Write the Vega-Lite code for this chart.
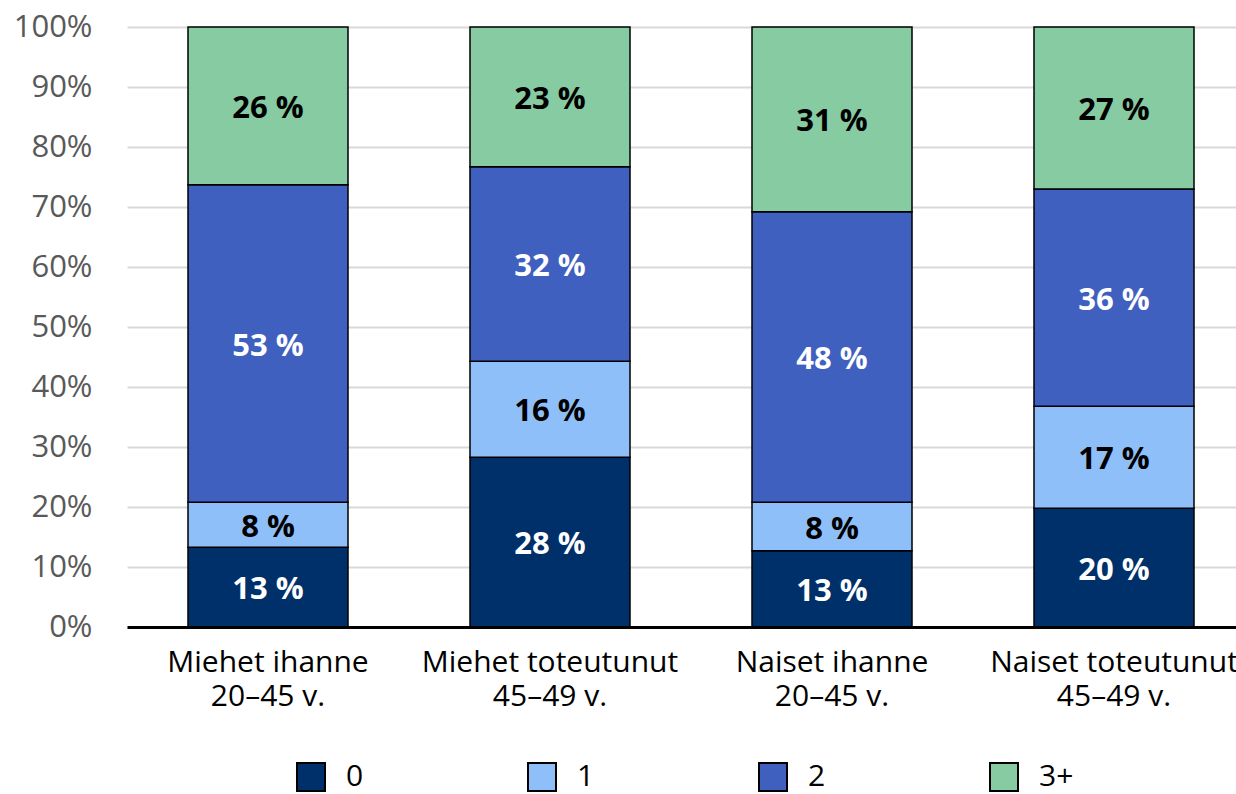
{
  "$schema": "https://vega.github.io/schema/vega-lite/v6.json",
  "width": 1109,
  "height": 600,
  "autosize": {"type": "none"},
  "padding": {"left": 127, "top": 27, "right": 0, "bottom": 167},
  "background": "white",
  "config": {"view": {"stroke": null}, "font": "Open Sans"},
  "data": {
    "values": [
      {"group": "Miehet ihanne|20–45 v.", "k": "0", "v": 13.3, "label": "13 %"},
      {"group": "Miehet ihanne|20–45 v.", "k": "1", "v": 7.5, "label": "8 %"},
      {"group": "Miehet ihanne|20–45 v.", "k": "2", "v": 52.9, "label": "53 %"},
      {"group": "Miehet ihanne|20–45 v.", "k": "3+", "v": 26.3, "label": "26 %"},
      {"group": "Miehet toteutunut|45–49 v.", "k": "0", "v": 28.3, "label": "28 %"},
      {"group": "Miehet toteutunut|45–49 v.", "k": "1", "v": 16.0, "label": "16 %"},
      {"group": "Miehet toteutunut|45–49 v.", "k": "2", "v": 32.4, "label": "32 %"},
      {"group": "Miehet toteutunut|45–49 v.", "k": "3+", "v": 23.3, "label": "23 %"},
      {"group": "Naiset ihanne|20–45 v.", "k": "0", "v": 12.7, "label": "13 %"},
      {"group": "Naiset ihanne|20–45 v.", "k": "1", "v": 8.1, "label": "8 %"},
      {"group": "Naiset ihanne|20–45 v.", "k": "2", "v": 48.4, "label": "48 %"},
      {"group": "Naiset ihanne|20–45 v.", "k": "3+", "v": 30.8, "label": "31 %"},
      {"group": "Naiset toteutunut|45–49 v.", "k": "0", "v": 19.8, "label": "20 %"},
      {"group": "Naiset toteutunut|45–49 v.", "k": "1", "v": 17.0, "label": "17 %"},
      {"group": "Naiset toteutunut|45–49 v.", "k": "2", "v": 36.2, "label": "36 %"},
      {"group": "Naiset toteutunut|45–49 v.", "k": "3+", "v": 27.0, "label": "27 %"}
    ]
  },
  "encoding": {
    "x": {
      "field": "group",
      "type": "nominal",
      "sort": null,
      "scale": {"range": [0, 1128], "paddingInner": 0.4326, "paddingOuter": 0.2163},
      "axis": {
        "title": null,
        "labelExpr": "split(datum.label, '|')",
        "labelAngle": 0,
        "labelFontSize": 30,
        "labelColor": "black",
        "labelLineHeight": 34,
        "labelPadding": 20,
        "labelOverlap": false,
        "labelLimit": 0,
        "ticks": false,
        "domainColor": "black",
        "domainWidth": 3,
        "grid": false,
        "zindex": 1
      }
    }
  },
  "layer": [
    {
      "mark": {"type": "bar", "stroke": "black", "strokeWidth": 1.5},
      "encoding": {
        "y": {
          "field": "v",
          "type": "quantitative",
          "stack": "zero",
          "scale": {"domain": [0, 100]},
          "axis": {
            "title": null,
            "values": [0, 10, 20, 30, 40, 50, 60, 70, 80, 90, 100],
            "labelExpr": "datum.value + '%'",
            "labelFontSize": 31,
            "labelColor": "#595959",
            "labelPadding": 35,
            "ticks": false,
            "domain": false,
            "gridColor": "#d9d9d9",
            "gridWidth": 2
          }
        },
        "color": {
          "field": "k",
          "type": "nominal",
          "scale": {"domain": ["0", "1", "2", "3+"], "range": ["#003069", "#8fbff8", "#3f60bf", "#86cba1"]},
          "legend": {
            "orient": "none",
            "legendX": 169,
            "legendY": 735,
            "direction": "horizontal",
            "columns": 4,
            "title": null,
            "padding": 0,
            "symbolType": "square",
            "symbolSize": 784,
            "symbolStrokeColor": "black",
            "symbolStrokeWidth": 2,
            "labelFontSize": 30,
            "labelColor": "black",
            "labelOffset": 20,
            "columnPadding": 160
          }
        },
        "order": {"field": "k", "sort": "ascending"}
      }
    },
    {
      "transform": [
        {"stack": "v", "groupby": ["group"], "sort": [{"field": "k", "order": "ascending"}], "as": ["y0", "y1"]},
        {"fold": ["y0", "y1"], "as": ["edge", "pos"]},
        {"aggregate": [{"op": "mean", "field": "pos", "as": "mid"}], "groupby": ["group", "k", "label"]}
      ],
      "mark": {"type": "text", "fontWeight": "bold", "fontSize": 31, "baseline": "middle", "dy": 3},
      "encoding": {
        "y": {"field": "mid", "type": "quantitative", "title": null},
        "text": {"field": "label"},
        "color": {"condition": {"test": "datum.k == '0' || datum.k == '2'", "value": "white"}, "value": "black"}
      }
    }
  ]
}
